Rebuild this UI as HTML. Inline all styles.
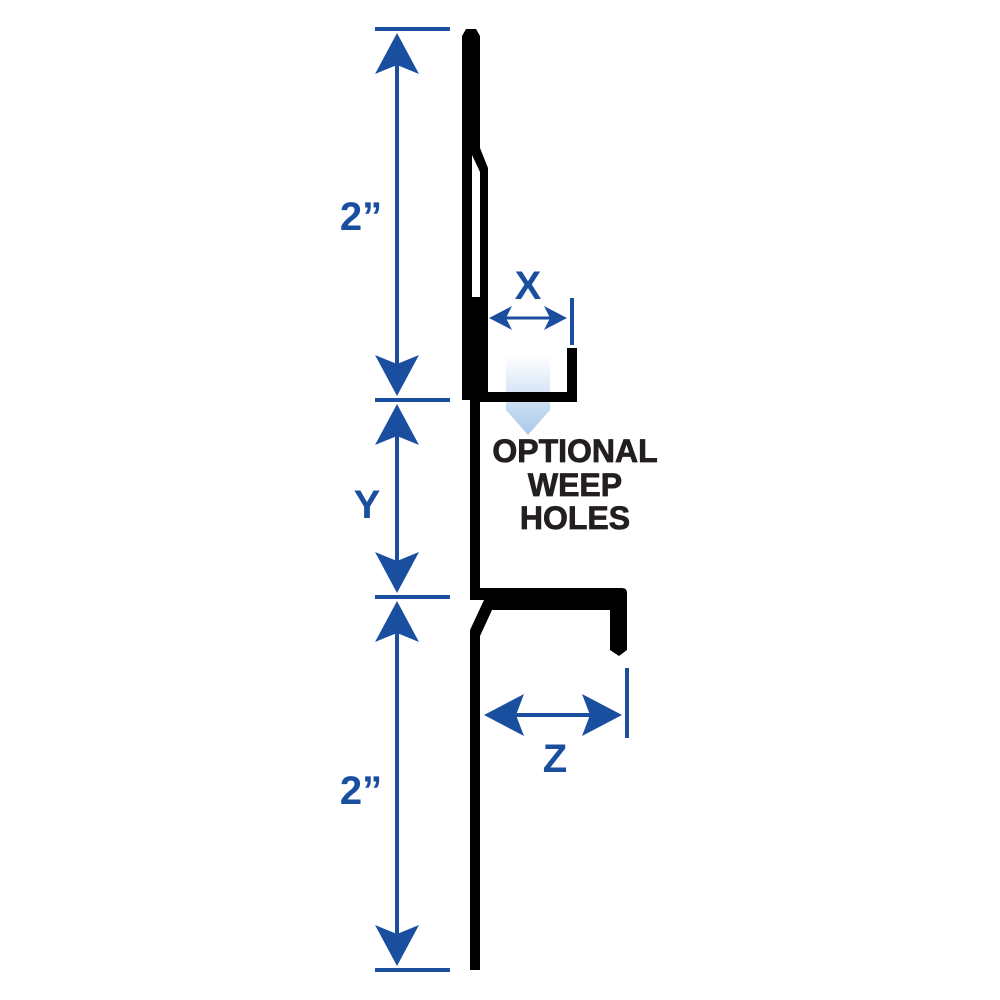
<!DOCTYPE html>
<html><head><style>body{margin:0;background:#fff}svg{display:block}</style></head><body>
<svg width="1000" height="1000" viewBox="0 0 1000 1000" xmlns="http://www.w3.org/2000/svg">
<defs>
<linearGradient id="g" x1="0" y1="0" x2="0" y2="1">
<stop offset="0" stop-color="#ffffff"/><stop offset="1" stop-color="#a9c8ea"/>
</linearGradient>
</defs>
<path d="M506 355 H550 V410 L528 435 L506 410 Z" fill="url(#g)"/>
<g stroke="#1a4fa0" stroke-width="4" fill="none">
<line x1="375" y1="29" x2="450" y2="29"/>
<line x1="375" y1="400" x2="450" y2="400"/>
<line x1="375" y1="597" x2="450" y2="597"/>
<line x1="375" y1="970" x2="450" y2="970"/>
<line x1="397" y1="40" x2="397" y2="390"/>
<line x1="397" y1="410" x2="397" y2="588"/>
<line x1="397" y1="608" x2="397" y2="960"/>
<line x1="572" y1="298" x2="572" y2="345"/>
<line x1="495" y1="318" x2="560" y2="318" stroke-width="3"/>
<line x1="627" y1="668" x2="627" y2="738"/>
<line x1="495" y1="715" x2="610" y2="715"/>
</g>
<g fill="#1a4fa0">
<path d="M397 33 L375 74 L397 65 L419 74 Z"/>
<path d="M397 396 L375 355 L397 364 L419 355 Z"/>
<path d="M397 404 L375 445 L397 436 L419 445 Z"/>
<path d="M397 593 L375 552 L397 561 L419 552 Z"/>
<path d="M397 601 L375 642 L397 633 L419 642 Z"/>
<path d="M397 966 L375 925 L397 934 L419 925 Z"/>
<path d="M489 318 L512 306 L506 318 L512 330 Z"/>
<path d="M567 318 L544 306 L550 318 L544 330 Z"/>
<path d="M484 715 L524 694 L516 715 L524 736 Z"/>
<path d="M622 715 L582 694 L590 715 L582 736 Z"/>
</g>
<g fill="#000">
<path d="M462 36 L466 29 L476 29 L480 36 L480 150 L472 150 L472 400 L462 400 Z"/>
<path d="M472 148 L480 148 L488 168 L488 400 L480 400 L480 172 L472 155 Z"/>
<rect x="471" y="297" width="10" height="103"/>
<rect x="470" y="400" width="10" height="198"/>
<path d="M470 588 H622 Q627 588 627 593 V650 L619 656 L610 650 V610 H492 L480 636 V970 H470 V630 L484 600 H470 Z"/>
<rect x="480" y="392" width="97" height="10"/>
<rect x="567" y="348" width="10" height="54"/>
</g>
<g font-family="Liberation Sans, sans-serif" font-weight="bold">
<g fill="#1a4fa0" font-size="40" text-anchor="middle">
<text x="361" y="230">2”</text>
<text x="367" y="518">Y</text>
<text x="361" y="804">2”</text>
<text x="528" y="299">X</text>
<text x="555" y="772">Z</text>
</g>
<g fill="#231f20" font-size="32" text-anchor="middle" stroke="#231f20" stroke-width="0.8">
<text x="575" y="462">OPTIONAL</text>
<text x="575" y="496">WEEP</text>
<text x="575" y="529">HOLES</text>
</g>
</g>
</svg>
</body></html>
